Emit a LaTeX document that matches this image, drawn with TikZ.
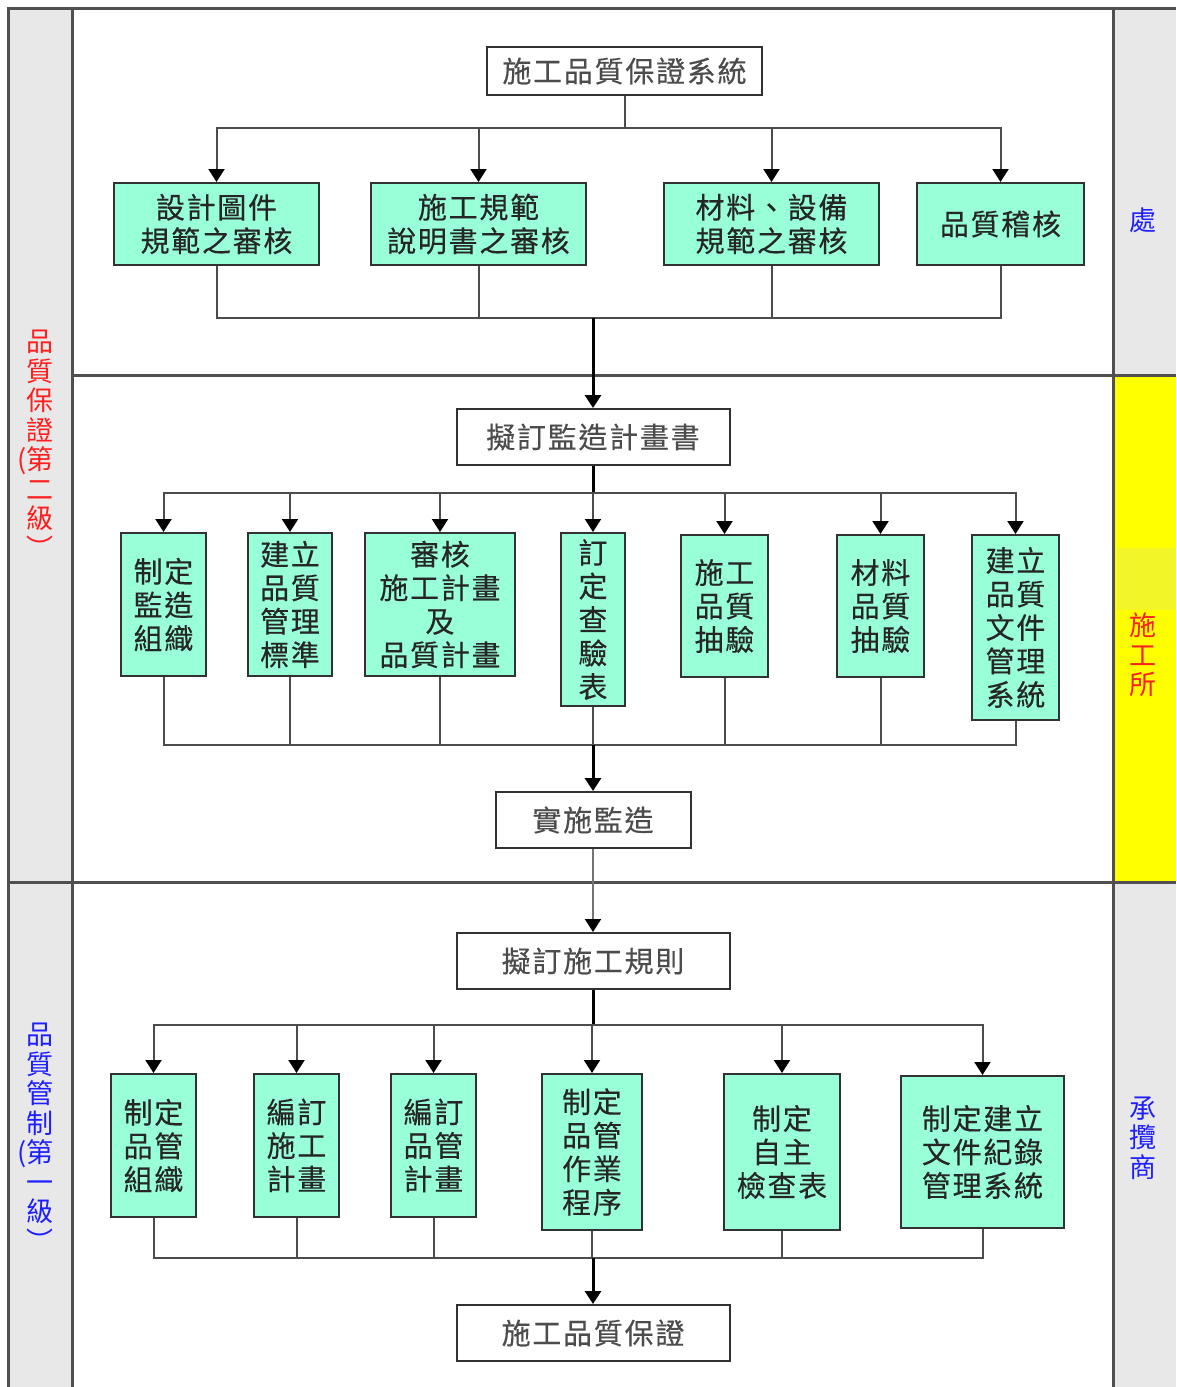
\documentclass[tikz,border=0pt]{standalone}
\usepackage{fontspec}
\setmainfont{Noto Sans CJK TC}
\newfontfamily\boxfont[LetterSpace=6,FakeBold=0.3]{Noto Sans CJK TC}
\newfontfamily\sidefont{Noto Sans CJK TC}
\usetikzlibrary{arrows.meta}

\definecolor{boxgreen}{RGB}{153,255,217}
\definecolor{colgray}{RGB}{232,232,232}
\definecolor{edgegray}{RGB}{50,50,50}
\definecolor{framegray}{RGB}{80,80,80}
\definecolor{lblred}{RGB}{255,30,30}
\definecolor{lblblue}{RGB}{30,30,255}
\definecolor{laneyellow}{RGB}{255,255,0}
\definecolor{paleyellow}{RGB}{242,245,40}

\tikzset{
  greenbox/.style={draw=edgegray, line width=2pt, fill=boxgreen, inner sep=0pt,
    align=center, text=black!85, font={\boxfont\fontsize{29}{33.5}\selectfont}},
  whitebox/.style={draw=edgegray, line width=2pt, fill=white, inner sep=0pt,
    align=center, text=black!70, font={\boxfont\fontsize{29}{33.5}\selectfont}},
  branch/.style={draw=black!70, line width=2pt},
  trunk/.style={draw=black, line width=3pt},
  tip/.style={-{Triangle[length=13pt,width=16pt,color=black]}},
  frame/.style={draw=framegray, line width=3pt},
  sidelabel/.style={inner sep=0pt, align=center, font={\sidefont\fontsize{27}{29.5}\selectfont}},
}

\begin{document}
\begin{tikzpicture}[x=1pt,y=-1pt]
\useasboundingbox (0,0) rectangle (1176,1387);

% lane backgrounds
\fill[colgray] (8,8) rectangle (72,1390);
\fill[colgray] (1113,8) rectangle (1176,375);
\fill[laneyellow] (1113,375) rectangle (1176,882);
\fill[paleyellow] (1117,548) rectangle (1176,610);
\fill[colgray] (1113,882) rectangle (1176,1390);

% lane borders
\draw[frame] (8,1390) -- (8,8) -- (1176,8);
\draw[frame] (72,8) -- (72,1390);
\draw[frame] (1113,8) -- (1113,1390);
\draw[frame] (72,375) -- (1176,375);
\draw[frame] (8,882) -- (1176,882);

% lane labels
\node[sidelabel, text=lblred] (lqa) at (40,444)
  {品\\質\\保\\證\\\llap{(}第\\二\\級\\︶};
\node[sidelabel, text=lblblue] (lqc) at (40,1137)
  {品\\質\\管\\制\\\llap{(}第\\一\\級\\︶};
\node[sidelabel, text=lblblue] (lhq) at (1143,220) {處};
\node[sidelabel, text=lblred] (lsite) at (1143,655) {施\\工\\所};
\node[sidelabel, text=lblblue] (lcon) at (1143,1138) {承\\攬\\商};

% level: quality assurance system
\node[whitebox, minimum width=275, minimum height=48] (n0) at (624.5,71) {施工品質保證系統};
\node[greenbox, minimum width=205, minimum height=82] (a1) at (216.5,224) {設計圖件\\規範之審核};
\node[greenbox, minimum width=215, minimum height=82] (a2) at (478.5,224) {施工規範\\說明書之審核};
\node[greenbox, minimum width=215, minimum height=82] (a3) at (771.5,224) {材料、設備\\規範之審核};
\node[greenbox, minimum width=167, minimum height=82] (a4) at (1000.5,224) {品質稽核};

% level: supervision plan
\node[whitebox, minimum width=273, minimum height=56] (n1) at (593,437) {擬訂監造計畫書};
\node[greenbox, minimum width=85, minimum height=143] (c1) at (163.5,604.5) {制定\\監造\\組織};
\node[greenbox, minimum width=84, minimum height=143] (c2) at (290,604.5) {建立\\品質\\管理\\標準};
\node[greenbox, minimum width=150, minimum height=143] (c3) at (440,604.5) {審核\\施工計畫\\及\\品質計畫};
\node[greenbox, minimum width=64, minimum height=173] (c4) at (593,619.5) {訂\\定\\查\\驗\\表};
\node[greenbox, minimum width=87, minimum height=142] (c5) at (724.5,606) {施工\\品質\\抽驗};
\node[greenbox, minimum width=87, minimum height=142] (c6) at (880.5,606) {材料\\品質\\抽驗};
\node[greenbox, minimum width=87, minimum height=185] (c7) at (1015.5,627.5) {建立\\品質\\文件\\管理\\系統};
\node[whitebox, minimum width=195, minimum height=56] (n2) at (593,820) {實施監造};

% level: construction quality control
\node[whitebox, minimum width=273, minimum height=56] (n3) at (593,961) {擬訂施工規則};
\node[greenbox, minimum width=85, minimum height=143] (d1) at (153.5,1145.5) {制定\\品管\\組織};
\node[greenbox, minimum width=85, minimum height=143] (d2) at (296.5,1145.5) {編訂\\施工\\計畫};
\node[greenbox, minimum width=85, minimum height=143] (d3) at (433.5,1145.5) {編訂\\品管\\計畫};
\node[greenbox, minimum width=100, minimum height=156] (d4) at (592,1152) {制定\\品管\\作業\\程序};
\node[greenbox, minimum width=116, minimum height=156] (d5) at (782,1152) {制定\\自主\\檢查表};
\node[greenbox, minimum width=163, minimum height=152] (d6) at (982.5,1152) {制定建立\\文件紀錄\\管理系統};
\node[whitebox, minimum width=273, minimum height=56] (n4) at (593,1333) {施工品質保證};

% bus and junction points
\coordinate (t0) at (624.5,128);
\coordinate (j0) at (593,318);
\coordinate (t1) at (593,493);
\coordinate (j1) at (593,745);
\coordinate (t2) at (593,1025);
\coordinate (j2) at (593,1258);

% connectors: top level
\draw[branch] (n0.south) -- (t0);
\foreach \c in {a1,a2,a3,a4} {
  \draw[branch, tip] (t0) -| (\c.north);
  \draw[branch] (\c.south) |- (j0);
}
\draw[trunk, tip] (j0) -- (n1.north);

% connectors: supervision level
\draw[trunk] (n1.south) -- (t1);
\foreach \c in {c1,c2,c3,c4,c5,c6,c7} {
  \draw[branch, tip] (t1) -| (\c.north);
  \draw[branch] (\c.south) |- (j1);
}
\draw[trunk, tip] (j1) -- (n2.north);
\draw[branch, draw=black!55, tip] (n2.south) -- (n3.north);

% connectors: quality control level
\draw[trunk] (n3.south) -- (t2);
\foreach \c in {d1,d2,d3,d4,d5,d6} {
  \draw[branch, tip] (t2) -| (\c.north);
  \draw[branch] (\c.south) |- (j2);
}
\draw[trunk, tip] (j2) -- (n4.north);
\end{tikzpicture}
\end{document}
